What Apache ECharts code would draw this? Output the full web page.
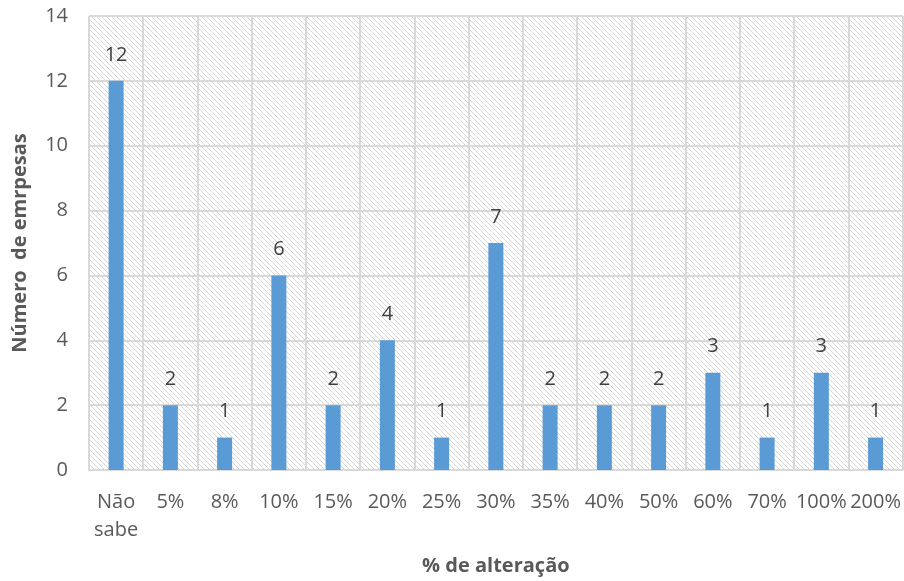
<!DOCTYPE html>
<html>
<head>
<meta charset="utf-8">
<script src="https://cdn.jsdelivr.net/npm/echarts@6/dist/echarts.min.js"></script>
<style>
  html, body { margin: 0; padding: 0; background: #fff; }
  #chart { width: 904px; height: 581px; }
</style>
</head>
<body>
<div id="chart"></div>
<script>
// Categories: percentage change
const categories = ['Não\nsabe', '5%', '8%', '10%', '15%', '20%', '25%', '30%', '35%', '40%', '50%', '60%', '70%', '100%', '200%'];
// Number of companies per category
const companies = [12, 2, 1, 6, 2, 4, 1, 7, 2, 2, 2, 3, 1, 3, 1];

// Diagonal hatch tile for the plot area
function hatchTile() {
  const size = 5;
  const c = document.createElement('canvas');
  c.width = size; c.height = size;
  const ctx = c.getContext('2d');
  ctx.fillStyle = '#ffffff';
  ctx.fillRect(0, 0, size, size);
  ctx.strokeStyle = '#d6d6d6';
  ctx.lineWidth = 1;
  ctx.beginPath();
  ctx.moveTo(-1, -1); ctx.lineTo(size + 1, size + 1);
  ctx.moveTo(-1, size - 1); ctx.lineTo(1, size + 1);
  ctx.moveTo(size - 1, -1); ctx.lineTo(size + 1, 1);
  ctx.stroke();
  return c;
}

const font = '"Open Sans", sans-serif';
const chart = echarts.init(document.getElementById('chart'), null, { renderer: 'canvas' });
chart.setOption({
  animation: false,
  grid: {
    left: 89, right: 1, top: 16, bottom: 111,
    show: true,
    borderWidth: 0,
    backgroundColor: { image: hatchTile(), repeat: 'repeat' }
  },
  xAxis: {
    type: 'category',
    data: categories,
    name: '% de alteração',
    nameLocation: 'middle',
    nameGap: 86,
    nameTextStyle: { fontFamily: font, fontSize: 20, fontWeight: 'bold', color: '#595959' },
    axisLine: { show: true, lineStyle: { color: '#d9d9d9', width: 2 } },
    axisTick: { show: false },
    axisLabel: { fontFamily: font, fontSize: 20, color: '#595959', margin: 18, lineHeight: 28, interval: 0 },
    splitLine: { show: true, lineStyle: { color: '#d9d9d9', width: 2 } }
  },
  yAxis: {
    type: 'value',
    min: 0, max: 14, interval: 2,
    name: 'Número  de emrpesas',
    nameLocation: 'middle',
    nameGap: 59,
    nameTextStyle: { fontFamily: font, fontSize: 20, fontWeight: 'bold', color: '#595959' },
    axisLine: { show: false },
    axisTick: { show: false },
    axisLabel: { fontFamily: font, fontSize: 20, color: '#595959', margin: 21 },
    splitLine: { show: true, lineStyle: { color: '#d9d9d9', width: 2 } }
  },
  series: [{
    type: 'bar',
    data: companies,
    barWidth: 15,
    itemStyle: { color: '#5b9bd5' },
    label: {
      show: true,
      position: 'top',
      distance: 16,
      fontFamily: font,
      fontSize: 20,
      color: '#404040'
    }
  }]
});
</script>
</body>
</html>
